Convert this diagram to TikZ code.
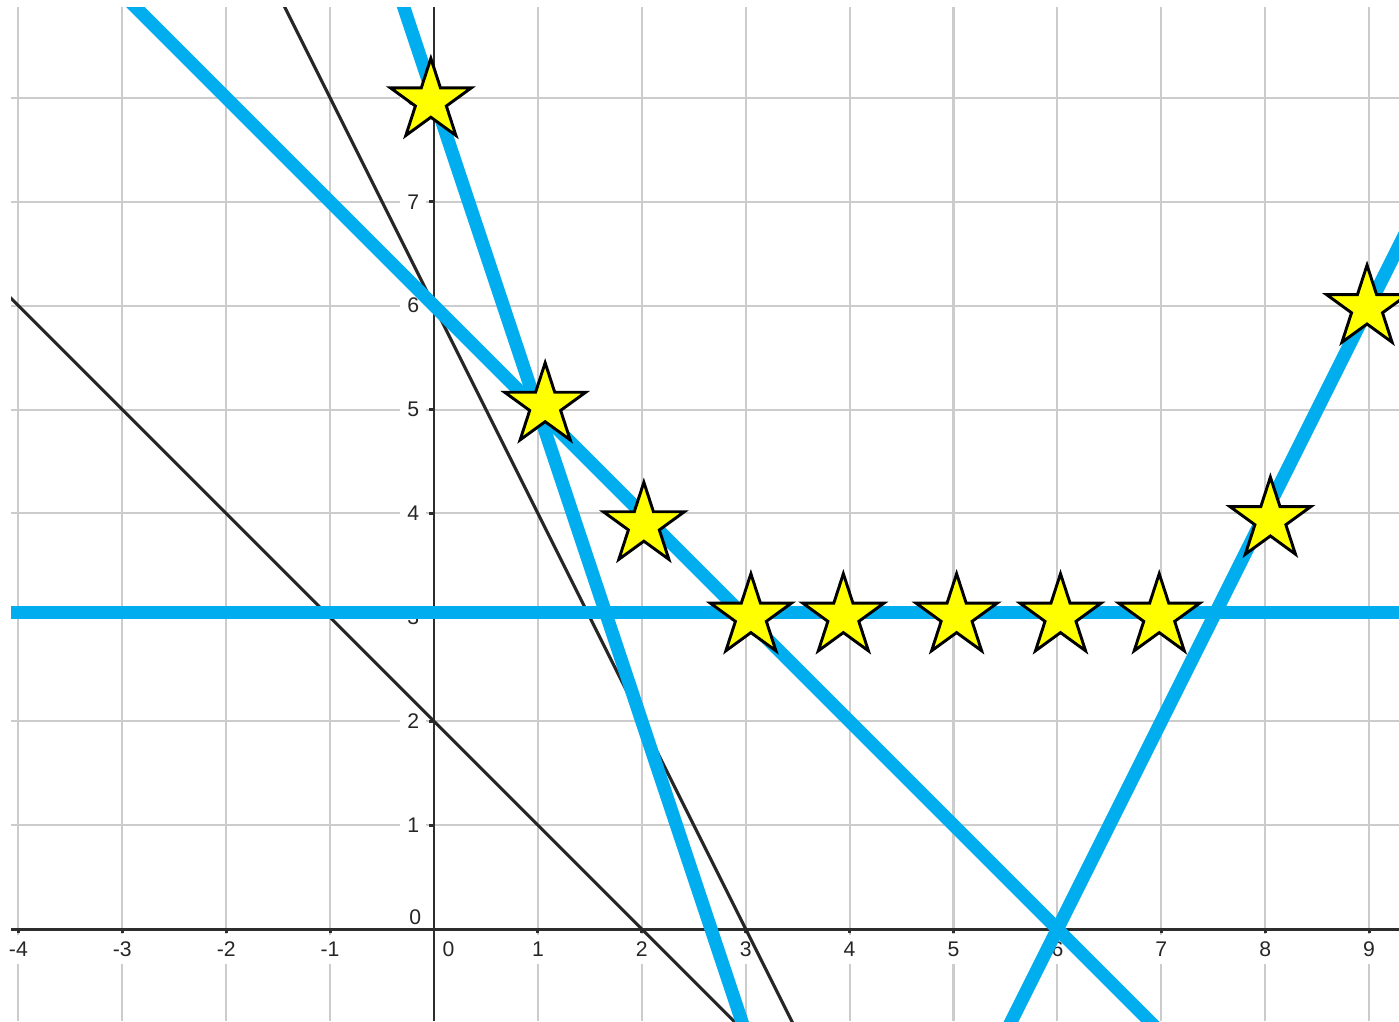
\documentclass[tikz,border=0pt]{standalone}
\usepackage{fontspec}
\setmainfont{Liberation Sans}
\usetikzlibrary{shapes.geometric}
\definecolor{skyblue}{RGB}{0,174,239}
\definecolor{gridgray}{RGB}{204,204,204}
\definecolor{axisgray}{RGB}{45,45,45}
\definecolor{staryellow}{RGB}{255,255,0}
\begin{document}
\begin{tikzpicture}[
  gridline/.style={gridgray, line width=0.55pt},
  axisline/.style={axisgray, line width=0.8pt},
  blackline/.style={black!85, line width=0.85pt},
  blueline/.style={skyblue, line width=3.6pt},
  ticklabel/.style={font=\fontsize{5.8}{6}\selectfont, text=black!85, fill=white, inner sep=2pt},
  starmark/.style={star, star points=5, star point ratio=2.618, draw=black, fill=staryellow, line width=0.8pt, minimum size=0.82cm, inner sep=0pt}
]
\useasboundingbox (-4.177,-0.885) rectangle (9.288,8.942);
\fill[white] (-4.177,-0.885) rectangle (9.288,8.942);
% grid
\foreach \x in {-4,...,9} \draw[gridline] (\x,-0.885) -- (\x,8.874);
\foreach \y in {1,...,8} \draw[gridline] (-4.071,\y) -- (9.288,\y);
% tick labels
\foreach \x [count=\i] in {-4,-3,-2,-1,1,2,3,4,5,6,7,8,9}
  \node[ticklabel] (lx\i) at (\x,-0.193) {\x};
\node[ticklabel] (lx0) at (0.14,-0.193) {0};
\foreach \y in {1,...,8}
  \node[ticklabel] (ly\y) at (-0.2,\y) {\y};
\node[ticklabel] (ly0) at (-0.18,0.115) {0};
% axes
\draw[axisline] (-4.071,0) -- (9.288,0);
\draw[axisline] (0,-0.885) -- (0,8.874);
\foreach \x in {-4,...,9} \draw[axisline] (\x,0) -- (\x,-0.035);
\foreach \y in {1,...,8} \draw[axisline] (0,\y) -- (-0.05,\y);
% lines
\begin{scope}
\clip (-4.071,-0.885) rectangle (9.288,8.874);
\coordinate (b1s) at (-5,7);     \coordinate (b1e) at (4,-2);
\coordinate (b2s) at (-2,10);    \coordinate (b2e) at (4,-2);
\coordinate (aS) at (-4,10);     \coordinate (aE) at (8,-2);
\coordinate (bS) at (-0.5,9.5);  \coordinate (bE) at (3.5,-2.5);
\coordinate (hS) at (-5,3.045);  \coordinate (hE) at (10,3.045);
\coordinate (cS) at (5,-2);      \coordinate (cE) at (10.75,9.5);
\draw[blackline] (b1s) -- (b1e);
\draw[blackline] (b2s) -- (b2e);
\draw[blueline] (aS) -- (aE);
\draw[blueline] (bS) -- (bE);
\draw[blueline] (hS) -- (hE);
\draw[blueline] (cS) -- (cE);
\end{scope}
% stars
\node[starmark] (s1) at (-0.03,7.97) {};
\node[starmark] (s2) at (1.07,5.04) {};
\node[starmark] (s3) at (2.02,3.89) {};
\node[starmark] (s4) at (3.05,3.01) {};
\node[starmark] (s5) at (3.94,3.01) {};
\node[starmark] (s6) at (5.03,3.01) {};
\node[starmark] (s7) at (6.03,3.01) {};
\node[starmark] (s8) at (6.98,3.01) {};
\node[starmark] (s9) at (8.05,3.94) {};
\node[starmark] (s10) at (8.98,5.98) {};
\end{tikzpicture}
\end{document}
